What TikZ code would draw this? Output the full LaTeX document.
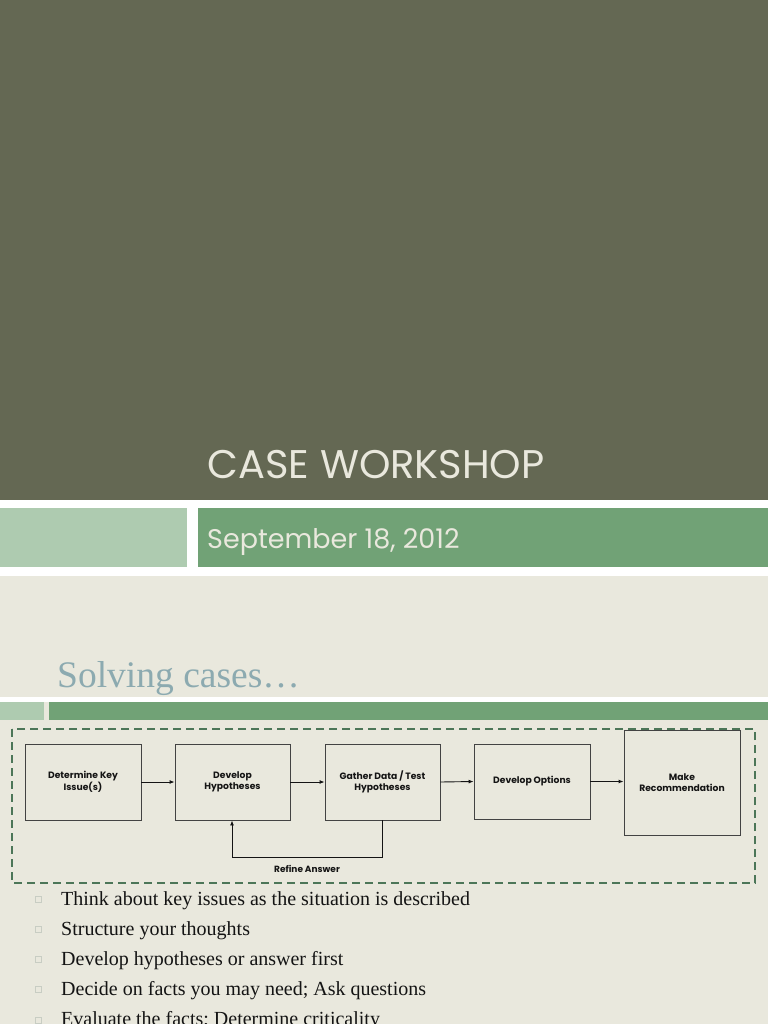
\documentclass[tikz,border=0pt]{standalone}
\usepackage{fontspec}
\setmainfont{Liberation Serif}
\newfontfamily\gothic{Poppins}
\usetikzlibrary{arrows.meta}
\definecolor{olive}{RGB}{100,104,83}
\definecolor{lightgreen}{RGB}{174,203,176}
\definecolor{midgreen}{RGB}{113,162,118}
\definecolor{paper}{RGB}{233,232,221}
\definecolor{titlegray}{RGB}{140,170,176}
\definecolor{dashgreen}{RGB}{76,118,88}
\definecolor{ink}{RGB}{20,20,20}
\definecolor{bulletgray}{RGB}{200,205,195}
\tikzset{
  stepbox/.style={draw=ink!80, line width=0.9pt, fill=paper, inner sep=0pt,
    align=center, font=\gothic\bfseries\fontsize{9.2}{11.5}\selectfont, text=ink},
  flow/.style={-{Latex[length=5pt,width=4pt]}, line width=0.9pt, draw=ink},
  bullettext/.style={anchor=base west, font=\fontsize{20}{24}\selectfont, text=ink, inner sep=0pt},
  bulletmark/.style={draw=bulletgray, line width=0.6pt, minimum size=6pt, inner sep=0pt},
}
\begin{document}
\begin{tikzpicture}[x=1pt,y=-1pt]
\useasboundingbox (0,0) rectangle (768,1024);
\fill[white] (0,0) rectangle (768,1024);
\fill[olive] (0,0) rectangle (768,500);
\fill[lightgreen] (0,508) rectangle (187,567);
\fill[midgreen] (198,508) rectangle (768,567);
\fill[paper] (0,576) rectangle (768,1024);
\fill[white] (0,697) rectangle (768,702);
\fill[lightgreen] (0,702) rectangle (44,720);
\fill[midgreen] (49,702) rectangle (768,720);
\node[anchor=base, text=paper, font=\gothic\fontsize{40}{44}\selectfont, inner sep=0pt] (title) at (376,478) {CASE WORKSHOP};
\node[anchor=base west, text=paper, font=\gothic\fontsize{27}{30}\selectfont, inner sep=0pt] (date) at (207,548) {September 18, 2012};
\node[anchor=base west, text=titlegray, font=\fontsize{37.5}{42}\selectfont, inner sep=0pt] (sub) at (57,687) {Solving cases\ldots};
\draw[dashgreen, line width=2pt, dash pattern=on 8pt off 5pt] (12,729) rectangle (755,883);
\node[stepbox, minimum width=116pt, minimum height=76pt] (b1) at (83,782) {Determine Key\\Issue(s)};
\node[stepbox, minimum width=115pt, minimum height=76pt] (b2) at (232.5,782) {Develop\\Hypotheses};
\node[stepbox, minimum width=115pt, minimum height=76pt] (b3) at (382.5,782) {Gather Data / Test\\Hypotheses};
\node[stepbox, minimum width=116pt, minimum height=75pt] (b4) at (532,781.5) {Develop Options};
\node[stepbox, minimum width=116pt, minimum height=105pt] (b5) at (682,782.5) {Make\\Recommendation};
\draw[flow] (b1.east) -- (b2.west);
\draw[flow] (b2.east) -- (b3.west);
\draw[flow] (b3.east) -- (b4.west);
\draw[flow] (b4.east) -- (b5.west |- b4.east);
\coordinate (fbR) at (382,857);
\coordinate (fbL) at (232,857);
\draw[flow] (b3.south -| fbR) -- (fbR) -- (fbL) -- (b2.south -| fbL);
\node[font=\gothic\bfseries\fontsize{9}{10}\selectfont, text=ink, inner sep=0pt] (refine) at (307,869) {Refine Answer};
\foreach \i/\t in {0/{Think about key issues as the situation is described},1/{Structure your thoughts},2/{Develop hypotheses or answer first},3/{Decide on facts you may need; Ask questions},4/{Evaluate the facts; Determine criticality}}{
  \node[bulletmark] (m\i) at (38,{899+30.2*\i}) {};
  \node[bullettext] (t\i) at (61,{905+30.2*\i}) {\t};
}
\end{tikzpicture}
\end{document}
